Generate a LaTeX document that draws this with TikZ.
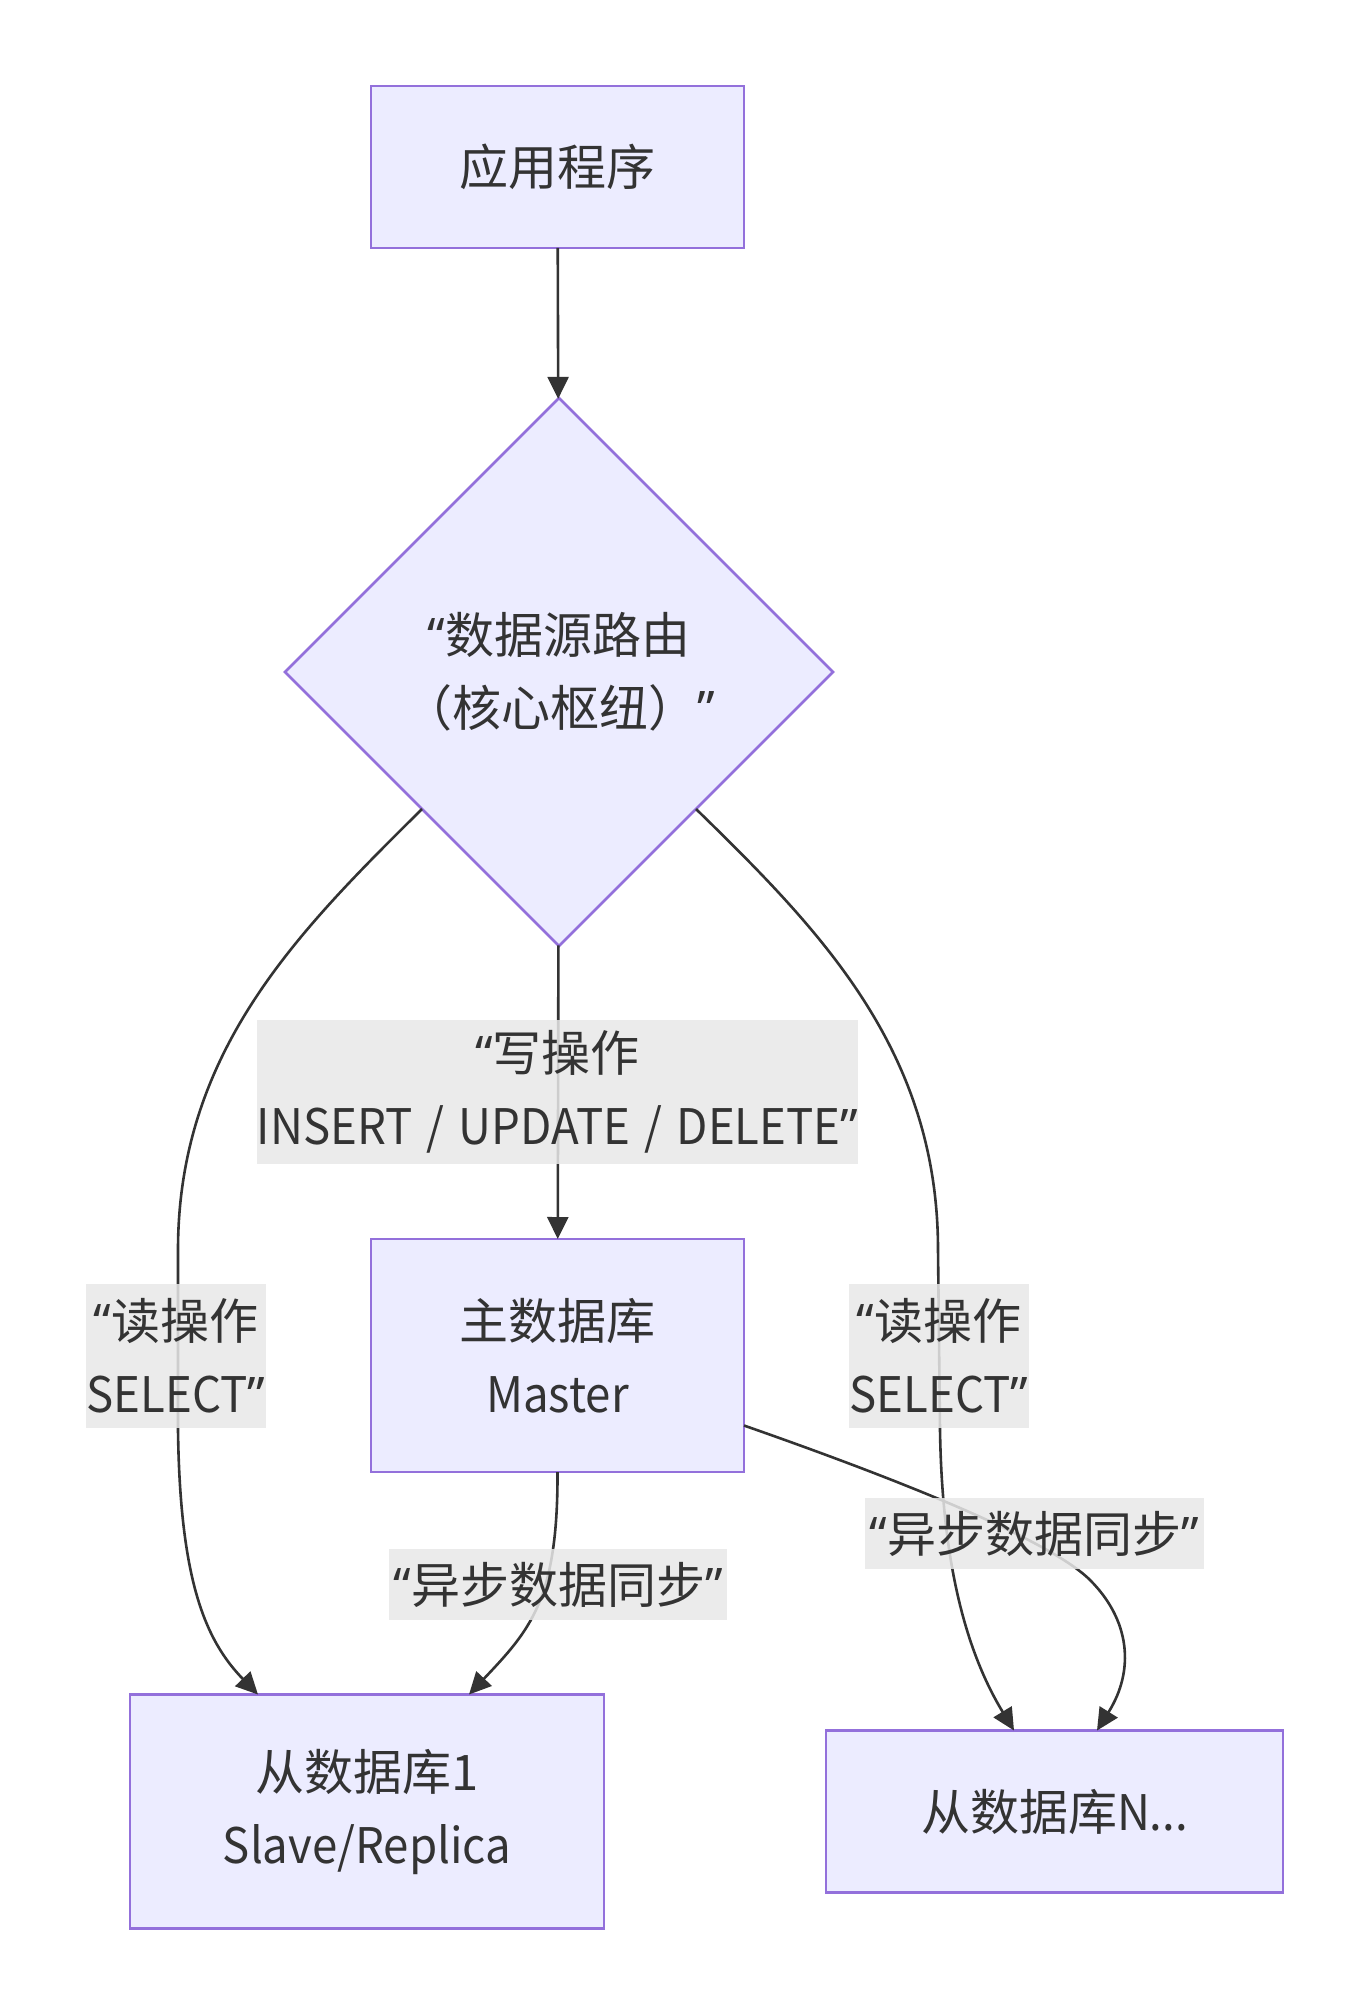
\documentclass[tikz,border=0pt]{standalone}
\usepackage{fontspec}
\setmainfont{Noto Sans CJK SC}
\newfontfamily\latinfont{Noto Sans}
\newfontfamily\narrowfont{Noto Sans CJK SC}[FakeStretch=0.93]
\usetikzlibrary{arrows.meta,shapes.geometric}

\definecolor{mmfill}{HTML}{ECECFF}
\definecolor{mmborder}{HTML}{9370DB}
\definecolor{mmtext}{HTML}{333333}
\definecolor{mmlabel}{HTML}{E8E8E8}

\newcommand{\lqt}{{\latinfont “}}
\newcommand{\rqt}{{\latinfont ”}}

\begin{document}
\begin{tikzpicture}[
    x=0.5pt, y=-0.5pt,
    box/.style={draw=mmborder, line width=1.3pt, fill=mmfill, text=mmtext, inner sep=0pt, outer sep=0pt, align=center, font=\fontsize{24.5}{36.5}\selectfont},
    decision/.style={box, diamond, aspect=1, minimum width=274pt, minimum height=274pt},
    lbl/.style={fill=mmlabel, fill opacity=0.85, text opacity=1, text=mmtext, inner sep=0pt, align=center, font=\fontsize{24.5}{36.5}\selectfont},
    arr/.style={-{Triangle[length=11pt, width=10.5pt]}, line width=1.3pt, draw=mmtext}
  ]
    \useasboundingbox (0,0) rectangle (1369,2016);

    \node[box, minimum width=186.5pt, minimum height=81pt] (app) at (557.5,167) {应用程序};
    \node[decision] (router) at (559,672) {\lqt 数据源路由\\（核心枢纽）\rqt};
    \node[box, minimum width=186.5pt, minimum height=116.5pt] (master) at (557.5,1355.5) {主数据库\\{\narrowfont Master}};
    \node[box, minimum width=237pt, minimum height=117pt] (slave1) at (367,1811.5) {从数据库1\\{\narrowfont Slave/Replica}};
    \node[box, minimum width=228.5pt, minimum height=81pt] (slaveN) at (1054.5,1811.5) {从数据库{\narrowfont N...}};

    \draw[arr] (app) -- (router);
    \draw[arr] (router) -- (master);
    \draw[arr] (router.south west) .. controls (300,930) and (178,1050) .. (178,1250) -- (178,1430) .. controls (180,1580) and (205,1640) .. ([xshift=64pt]slave1.north west);
    \draw[arr] (router.south east) .. controls (820,930) and (938,1050) .. (938,1250) -- (940,1430) .. controls (942,1560) and (965,1650) .. ([xshift=94pt]slaveN.north west);
    \draw[arr] (master.south) .. controls (558,1600) and (530,1630) .. ([xshift=169.5pt]slave1.north west);
    \draw[arr] ([yshift=-35pt]master.east) .. controls (900,1480) and (1050,1540) .. (1090,1580) .. controls (1130,1620) and (1135,1670) .. ([xshift=135.5pt]slaveN.north west);

    \node[lbl, minimum width=299.5pt, minimum height=72pt] (write) at (557.5,1092) {\lqt 写操作\\{\narrowfont INSERT\hspace{2pt} /\hspace{2pt} UPDATE\hspace{2pt} /\hspace{2pt} DELETE}\rqt};
    \node[lbl, minimum width=90pt, minimum height=72pt] (readl) at (176,1356) {\lqt 读操作\\{\narrowfont SELECT}\rqt};
    \node[lbl, minimum width=90pt, minimum height=72pt] (readr) at (939,1356) {\lqt 读操作\\{\narrowfont SELECT}\rqt};
    \node[lbl, minimum width=169pt, minimum height=35.5pt] (syncl) at (558,1584.5) {\lqt 异步数据同步\rqt};
    \node[lbl, minimum width=169.5pt, minimum height=35.5pt] (syncr) at (1034.5,1533.5) {\lqt 异步数据同步\rqt};
  \end{tikzpicture}
\end{document}
